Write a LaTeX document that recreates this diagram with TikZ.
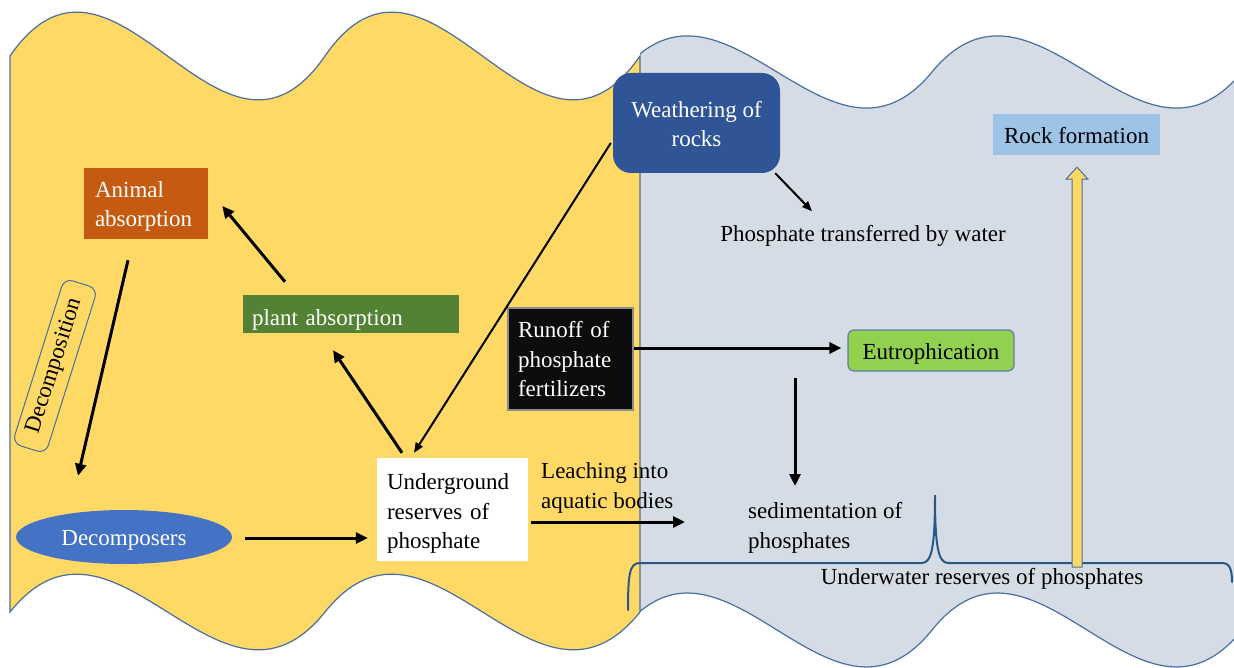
\documentclass[tikz,border=0pt]{standalone}
\usepackage{fontspec}
\setmainfont{Liberation Serif}
\usetikzlibrary{arrows.meta,calc,shapes.geometric}

\definecolor{sand}{HTML}{FFD966}
\definecolor{mist}{HTML}{D6DCE5}
\definecolor{waveline}{HTML}{4A6E9E}
\definecolor{braceline}{HTML}{2A5885}
\definecolor{navy}{HTML}{2F5597}
\definecolor{skyblue}{HTML}{9DC3E6}
\definecolor{rust}{HTML}{C55A11}
\definecolor{leaf}{HTML}{548235}
\definecolor{royal}{HTML}{4472C4}
\definecolor{lime}{HTML}{92D050}
\definecolor{limeline}{HTML}{5A7FA8}

% invisible strut that pushes a line of text a little lower inside its box
\newcommand\sinkline[1]{\rule{0pt}{#1}}

\begin{document}
\begin{tikzpicture}[x=1pt,y=-1pt,
  every node/.style={font=\fontsize{23}{29.5}\selectfont},
  region/.style={draw=waveline,line width=1.2pt},
  bigarrow/.style={line width=3pt,-{Triangle[length=12pt,width=11pt]}},
  thinarrow/.style={line width=2pt,-{Triangle[length=10pt,width=8pt]}},
  plainbox/.style={inner sep=0pt,align=left},
  label/.style={inner sep=0pt,align=left}]

\clip (0,0) rectangle (1234,668);

% water side
\fill[white] (0,0) rectangle (1234,668);
\begin{scope}
\clip (640,0) rectangle (1234,668);
\path[region,fill=mist] (622,72) .. controls (725,-53) and (829,197) .. (932,72)
  .. controls (1035,-53) and (1139,197) .. (1242,72) -- (1242,630)
  .. controls (1139,758) and (1035,502) .. (932,630)
  .. controls (829,758) and (725,502) .. (622,630) -- cycle;
\end{scope}

% land side
\path[region,fill=sand] (10,56) .. controls (115,-96) and (220,208) .. (325,56)
  .. controls (430,-96) and (535,208) .. (640,56) -- (640,612)
  .. controls (535,743) and (430,481) .. (325,612)
  .. controls (220,743) and (115,481) .. (10,612) -- cycle;

% brace under the sediment
\draw[braceline,line width=2pt,line cap=round]
  (628,610) .. controls (628,572) and (630,563) .. (640,563) -- (922,563)
  .. controls (932,563) and (935,545) .. (935,495)
  .. controls (935,545) and (938,563) .. (948,563) -- (1222,563)
  .. controls (1230,563) and (1232,570) .. (1232,582);

% boxes
\node[fill=navy,text=white,rounded corners=18pt,minimum width=167pt,minimum height=100pt,
  align=center,inner sep=0pt] (weather) at (696.5,123) {\sinkline{18pt}Weathering of\\rocks};
\node[fill=skyblue,minimum width=167pt,minimum height=41pt,inner sep=0pt] (rock) at (1076.5,134.5) {\sinkline{18pt}Rock formation};
\node[label] (transfer) at (863,236) {Phosphate transferred by water};
\node[plainbox,fill=rust,text=white,minimum width=124pt,minimum height=71pt,text width=102pt]
  (animal) at (146,203.5) {\sinkline{22pt}Animal\\absorption};
\node[plainbox,fill=leaf,text=white,minimum width=216pt,minimum height=38pt,text width=198pt]
  (plant) at (351,314) {\sinkline{28pt}plant absorption};
\node[draw=waveline,line width=1pt,rounded corners=9pt,rotate=72.5,minimum width=173pt,
  minimum height=35pt,inner sep=0pt] (decomposition) at (55,366) {Decomposition};
\node[ellipse,fill=royal,text=white,minimum width=216pt,minimum height=54pt,inner sep=0pt]
  (decomp) at (124,537) {\sinkline{22pt}Decomposers};
\node[plainbox,fill=white,minimum width=151pt,minimum height=103pt,text width=131pt]
  (under) at (452.5,509.5) {\sinkline{24pt}Underground\\reserves of\\phosphate};
\node[plainbox,fill=black!95,draw=black!45,line width=1.5pt,text=white,minimum width=125pt,
  minimum height=102pt,text width=105pt] (runoff) at (570.5,359) {\sinkline{17pt}Runoff of\\phosphate\\fertilizers};
\node[fill=lime,draw=limeline,line width=1.2pt,rounded corners=6pt,minimum width=166pt,
  minimum height=41pt,inner sep=0pt] (eutro) at (931,350.5) {\sinkline{22pt}Eutrophication};
\node[label,anchor=west] (leach) at (541,488) {Leaching into\\aquatic bodies};
\node[label,anchor=west] (sediment) at (748,528) {sedimentation of\\phosphates};
\node[label] (underwater) at (982,579) {Underwater reserves of phosphates};
\coordinate (leachend) at (685,522);
\coordinate (rockbase) at (1077,567);

% connectors
\draw[bigarrow] ($(animal.south)+(-18,21)$) -- ($(decomp.north)+(-46,-34)$);
\draw[bigarrow] ($(plant.north)+(-66,-13)$) -- ($(animal.east)+(14,2.5)$);
\draw[bigarrow] ($(under.north)+(-50.5,-5)$) -- ($(plant.south)+(-18,17)$);
\draw[thinarrow] ($(weather.west)+(-2,20)$) -- ($(under.north)+(-38.5,-5)$);
\draw[bigarrow] ($(decomp.east)+(13,1)$) -- ($(under.west)+(-9,28.5)$);
\draw[bigarrow] ($(under.east)+(3,12.5)$) -- (leachend);
\draw[bigarrow] ($(runoff.east)+(0,-11)$) -- ($(eutro.west)+(-6,-2.5)$);
\draw[bigarrow] ($(eutro.south)+(-136,6)$) -- ($(sediment.west)+(47,-42)$);
\draw[thinarrow] ($(weather.south east)+(-5,0)$) -- ($(transfer.north)+(-51,-14)$);

% hollow block arrow up to rock formation
\coordinate (tip) at ($(rock.south)+(0.5,12)$);
\draw[fill=sand,draw=waveline,line width=1pt,line join=miter]
  (tip) -- ($(tip)+(11,12)$) -- ($(tip)+(5,12)$) -- ($(rockbase)+(5,0)$)
  -- ($(rockbase)+(-5,0)$) -- ($(tip)+(-5,12)$) -- ($(tip)+(-11,12)$) -- cycle;
\end{tikzpicture}
\end{document}
